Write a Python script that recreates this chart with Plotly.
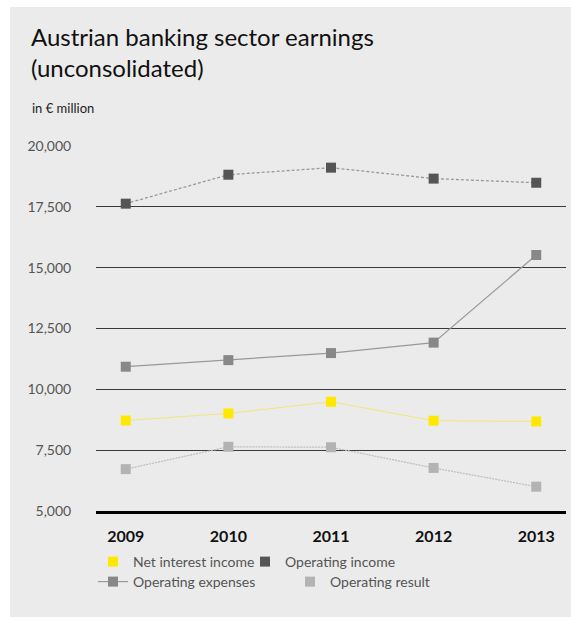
import plotly.graph_objects as go

# Austrian banking sector earnings, unconsolidated, EUR million
years = ["2009", "2010", "2011", "2012", "2013"]
net_interest_income = [8720, 9010, 9490, 8710, 8680]
operating_income = [17630, 18820, 19110, 18660, 18490]
operating_expenses = [10930, 11200, 11490, 11920, 15520]
operating_result = [6720, 7640, 7620, 6770, 6000]

y_ticks = [5000, 7500, 10000, 12500, 15000, 17500, 20000]
y_tick_text = ["5,000", "7,500", "10,000", "12,500", "15,000", "17,500", "20,000"]

W, H = 571, 617
M_L, M_R, M_T, M_B = 96, 5, 146, 106
PLOT_W = W - M_L - M_R
PLOT_H = H - M_T - M_B

FONT = "Lato"
PANEL = "#ebebeb"


def px_x(x):
    return x / W


def px_y(y):
    return 1 - y / H


def paper_x(x):
    return (x - M_L) / PLOT_W


def paper_y(y):
    return 1 - (y - M_T) / PLOT_H


series = [
    dict(name="Net interest income", y=net_interest_income, marker="#ffe800",
         line=dict(color="#f2e67a", width=1), legend="legend", pos=(93, 562),
         legend_line=False),
    dict(name="Operating income", y=operating_income, marker="#555555",
         line=dict(color="#9a9a9a", width=1.3, dash="3px,2px"), legend="legend2", pos=(245, 562),
         legend_line=False),
    dict(name="Operating expenses", y=operating_expenses, marker="#888888",
         line=dict(color="#999999", width=1.2), legend="legend3", pos=(93, 582),
         legend_line=True),
    dict(name="Operating result", y=operating_result, marker="#b3b3b3",
         line=dict(color="#bdbdbd", width=1.2, dash="2px,1px"), legend="legend4", pos=(290, 582),
         legend_line=False),
]

fig = go.Figure()
legend_layouts = {}
for s in series:
    marker = dict(symbol="square", size=10, color=s["marker"])
    if s["legend_line"]:
        fig.add_trace(go.Scatter(
            x=years, y=s["y"], name=s["name"], mode="lines+markers",
            line=s["line"], marker=marker, legend=s["legend"],
        ))
    else:
        # connecting line drawn separately so the legend shows the marker only
        fig.add_trace(go.Scatter(
            x=years, y=s["y"], mode="lines", line=s["line"],
            showlegend=False, hoverinfo="skip",
        ))
        fig.add_trace(go.Scatter(
            x=years, y=s["y"], name=s["name"], mode="markers",
            marker=marker, legend=s["legend"],
        ))
    lx, ly = s["pos"]
    legend_layouts[s["legend"]] = dict(
        xref="container", yref="container",
        x=px_x(lx), y=px_y(ly), xanchor="left", yanchor="middle",
        orientation="h", bgcolor="rgba(0,0,0,0)", borderwidth=0,
        font=dict(family=FONT, size=14, color="#555555"),
    )

# light grey panel behind the whole chart
fig.add_shape(
    type="rect", xref="paper", yref="paper", layer="below",
    x0=paper_x(10), x1=paper_x(W + 5),
    y0=paper_y(H + 5), y1=paper_y(7),
    fillcolor=PANEL, line=dict(width=0),
)

fig.add_annotation(
    text="Austrian banking sector earnings<br>(unconsolidated)",
    xref="paper", yref="paper", x=paper_x(29), y=paper_y(20),
    xanchor="left", yanchor="top", align="left", showarrow=False,
    font=dict(family=FONT, size=24, color="#111111"),
)

fig.add_annotation(
    text="in € million", xref="paper", yref="paper",
    x=paper_x(30), y=paper_y(108),
    xanchor="left", yanchor="middle", showarrow=False,
    font=dict(family=FONT, size=13, color="#222222"),
)

fig.update_layout(
    width=W, height=H,
    margin=dict(l=M_L, r=M_R, t=M_T, b=M_B, autoexpand=False),
    paper_bgcolor="white", plot_bgcolor=PANEL,
    xaxis=dict(
        type="category", showgrid=False, showline=True, linecolor="#000000",
        linewidth=3, ticks="outside", ticklen=9, tickcolor="rgba(0,0,0,0)",
        tickfont=dict(family=FONT, size=16, color="#111111", weight="bold"),
        fixedrange=True,
    ),
    yaxis=dict(
        range=[5000, 20000], tickvals=y_ticks, ticktext=y_tick_text,
        showgrid=True, gridcolor="#3a3a3a", gridwidth=1.3, zeroline=False,
        ticks="outside", ticklen=21, tickcolor="rgba(0,0,0,0)",
        tickfont=dict(family=FONT, size=14, color="#555555"),
        fixedrange=True,
    ),
    **legend_layouts,
)

fig.write_html("out.html")
